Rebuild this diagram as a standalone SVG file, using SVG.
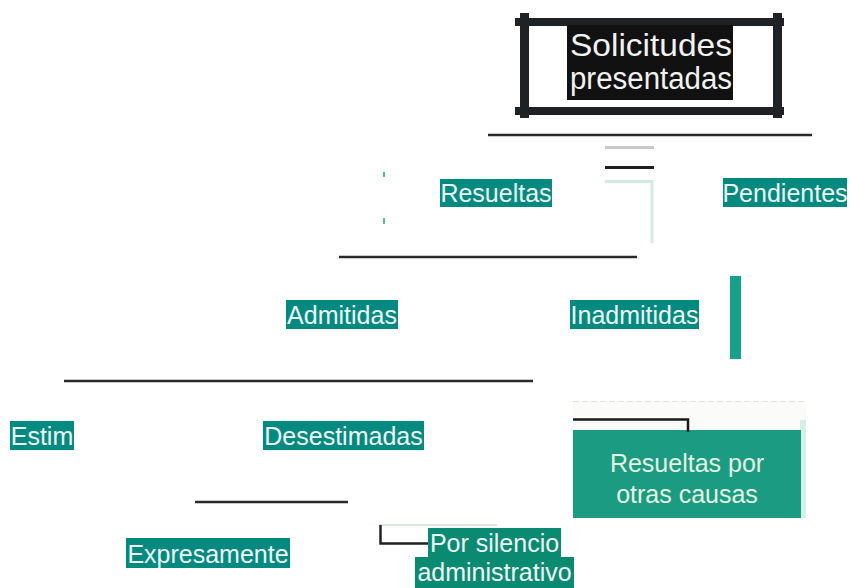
<svg xmlns="http://www.w3.org/2000/svg" width="852" height="588" viewBox="0 0 852 588">
<style>
.lbl{font-family:"Liberation Sans",Arial,sans-serif;font-size:25px;fill:#eef8f5;text-anchor:middle}
.bg{fill:#038a80}
.line{stroke:#2a2a2a;stroke-width:2.5;fill:none}
.frame{fill:#1f2224}
</style>
<rect width="852" height="588" fill="#ffffff"/>
<g id="connectors">
<line class="line" x1="488" y1="135" x2="812" y2="135"/>
<line class="line" x1="339" y1="257" x2="637" y2="257"/>
<line class="line" x1="64" y1="381" x2="533" y2="381"/>
<line class="line" x1="195" y1="502" x2="348" y2="502"/>
<line x1="605" y1="147.5" x2="654" y2="147.5" stroke="#c9c9c9" stroke-width="3"/>
<line x1="605" y1="167.5" x2="654" y2="167.5" stroke="#1e1e1e" stroke-width="3"/>
<path d="M605 181.5 H652 V243" stroke="#d4ebe5" stroke-width="3" fill="none"/>
<rect x="383" y="172" width="2" height="5" fill="#55bba3"/>
<rect x="383" y="218" width="2" height="6" fill="#55bba3"/>
<rect x="730" y="276" width="11" height="83" fill="#17a08a"/>
<line x1="380" y1="525" x2="497" y2="525" stroke="#d6eadf" stroke-width="2"/>
<path d="M380.5 525 V543.5 H428" stroke="#222" stroke-width="2.5" fill="none"/>
</g>
<g id="node-solicitudes">
<rect class="frame" x="515" y="18" width="269" height="8"/>
<rect class="frame" x="515" y="107" width="269" height="8"/>
<rect class="frame" x="520" y="13" width="9" height="105"/>
<rect class="frame" x="773" y="13" width="9" height="105"/>
<rect x="567" y="25" width="166" height="75" fill="#111111"/>
<text x="570" y="56" font-family="Liberation Sans,Arial,sans-serif" font-size="32" fill="#f2f2f2" textLength="162" lengthAdjust="spacingAndGlyphs">Solicitudes</text>
<text x="570" y="89" font-family="Liberation Sans,Arial,sans-serif" font-size="31" fill="#f2f2f2" textLength="162" lengthAdjust="spacingAndGlyphs">presentadas</text>
</g>
<g id="node-resueltas">
<rect class="bg" x="440" y="179" width="112" height="28"/>
<text class="lbl" x="496" y="202">Resueltas</text>
</g>
<g id="node-pendientes">
<rect class="bg" x="723" y="178" width="124" height="29"/>
<text class="lbl" x="785" y="202">Pendientes</text>
</g>
<g id="node-admitidas">
<rect class="bg" x="286" y="300" width="112" height="29"/>
<text class="lbl" x="342" y="324">Admitidas</text>
</g>
<g id="node-inadmitidas">
<rect class="bg" x="570" y="300" width="129" height="29"/>
<text class="lbl" x="634.5" y="324">Inadmitidas</text>
</g>
<g id="node-estim">
<rect class="bg" x="10" y="421" width="64" height="29"/>
<text class="lbl" x="42" y="445">Estim</text>
</g>
<g id="node-desestimadas">
<rect class="bg" x="263" y="421" width="161" height="29"/>
<text class="lbl" x="343.5" y="445">Desestimadas</text>
</g>
<g id="node-expresamente">
<rect class="bg" x="126" y="538" width="164" height="30"/>
<text class="lbl" x="208" y="563">Expresamente</text>
</g>
<g id="node-silencio">
<rect x="428" y="528" width="133" height="30" fill="#0b8a72"/>
<rect x="415" y="557" width="159" height="31" fill="#0b8a72"/>
<text class="lbl" x="494.5" y="552">Por silencio</text>
<text class="lbl" x="494.5" y="581">administrativo</text>
</g>
<g id="node-otras-causas">
<rect x="573" y="401" width="233" height="30" fill="#fbfbfa"/>
<line x1="573" y1="401.5" x2="806" y2="401.5" stroke="#e2e2e2" stroke-width="1" stroke-dasharray="6 3"/>
<rect x="800" y="420" width="6" height="98" fill="#d8eee8"/>
<rect x="573" y="430" width="228" height="88" fill="#1b9c82"/>
<path d="M573 419.5 H688 V432" stroke="#1a1a1a" stroke-width="2.5" fill="none"/>
<text x="687" y="472" font-family="Liberation Sans,Arial,sans-serif" font-size="25" fill="#e4f2e2" text-anchor="middle">Resueltas por</text>
<text x="687" y="503" font-family="Liberation Sans,Arial,sans-serif" font-size="25" fill="#e4f2e2" text-anchor="middle">otras causas</text>
</g>
</svg>
